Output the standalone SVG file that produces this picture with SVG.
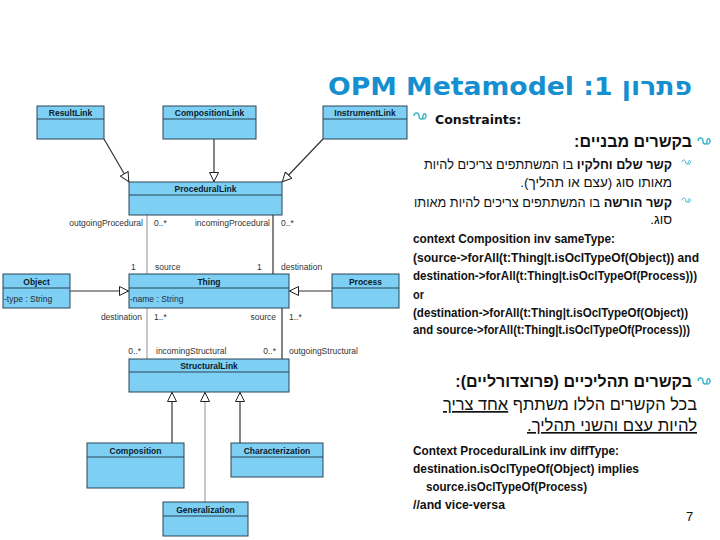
<svg xmlns="http://www.w3.org/2000/svg" width="720" height="540" viewBox="0 0 720 540">
<defs>
<style>
.cls{fill:#7dcff3;stroke:#2b4557;stroke-width:1}
.dv{stroke:#2b4557;stroke-width:1}
.cn{font-family:"Liberation Sans",Arial,sans-serif;font-size:8.5px;font-weight:bold;fill:#0d1b2e;text-anchor:middle}
.at{font-family:"Liberation Sans",Arial,sans-serif;font-size:8.5px;fill:#1d2d3d}
.lb{font-family:"Liberation Sans",Arial,sans-serif;font-size:8.5px;fill:#333}
.e{text-anchor:end}
.dk{stroke:#333;stroke-width:1.2;fill:none}
.lt{stroke:#c8c8c8;stroke-width:2;fill:none}
.he{font-family:"Liberation Sans","DejaVu Sans",sans-serif;fill:#111}
.ocl{font-family:"Liberation Sans",Arial,sans-serif;font-weight:bold;font-size:12px;fill:#111}
.bul{fill:none;stroke:#3cb6c8;stroke-width:1.4}
</style>
<marker id="tri" viewBox="0 0 10 10" refX="10" refY="5" markerWidth="10" markerHeight="10" markerUnits="userSpaceOnUse" orient="auto">
<path d="M0.5,0.5 L9.5,5 L0.5,9.5 Z" fill="#fff" stroke="#222" stroke-width="1"/>
</marker>
<path id="sw" d="M0,3 C0,-1 5,-1 5,3 C5,7 9,7 9,3 C9,0 12,0 12,3 C12,6 9,7 8,5"/>
</defs>

<text x="328" y="95" font-family="DejaVu Sans,sans-serif" font-weight="bold" font-size="25" fill="#158fcf" textLength="364" lengthAdjust="spacingAndGlyphs">OPM Metamodel :1 פתרון</text>

<g id="connectors">
<line class="dk" x1="104" y1="139" x2="129" y2="182" marker-end="url(#tri)"/>
<line class="dk" x1="214" y1="139" x2="214" y2="182" marker-end="url(#tri)"/>
<line class="dk" x1="323" y1="139" x2="282" y2="182" marker-end="url(#tri)"/>
<line class="lt" x1="147" y1="215" x2="147" y2="274"/>
<line class="dk" x1="273" y1="215" x2="273" y2="274"/>
<line class="lt" x1="147" y1="308" x2="147" y2="359"/>
<line class="dk" x1="282" y1="308" x2="282" y2="359"/>
<line class="dk" x1="70" y1="291" x2="129" y2="291" stroke-width="1.5" marker-end="url(#tri)"/>
<line class="dk" x1="332" y1="291" x2="289" y2="291" stroke-width="1.5" marker-end="url(#tri)"/>
<line class="dk" x1="172" y1="443" x2="172" y2="392" marker-end="url(#tri)"/>
<line class="lt" x1="205" y1="502" x2="205" y2="392" stroke-width="1.5" marker-end="url(#tri)"/>
<line class="dk" x1="240" y1="443" x2="240" y2="392" stroke="#555" stroke-width="2" marker-end="url(#tri)"/>
<text class="lb e" x="143" y="226">outgoingProcedural</text>
<text class="lb" x="154" y="226">0..*</text>
<text class="lb e" x="270" y="226">incomingProcedural</text>
<text class="lb" x="281" y="226">0..*</text>
<text class="lb" x="131" y="270">1</text>
<text class="lb" x="155" y="270">source</text>
<text class="lb" x="257" y="270">1</text>
<text class="lb" x="281" y="270">destination</text>
<text class="lb e" x="142" y="320">destination</text>
<text class="lb" x="154" y="320">1..*</text>
<text class="lb e" x="276" y="320">source</text>
<text class="lb" x="289" y="320">1..*</text>
<text class="lb e" x="141" y="354">0..*</text>
<text class="lb" x="156" y="354">incomingStructural</text>
<text class="lb e" x="276" y="354">0..*</text>
<text class="lb" x="289" y="354">outgoingStructural</text>
</g>

<g id="ResultLink"><rect class="cls" x="37" y="106" width="67" height="33"/><line class="dv" x1="37" y1="119" x2="104" y2="119"/><text class="cn" x="70.5" y="116">ResultLink</text></g>
<g id="CompositionLink"><rect class="cls" x="163" y="106" width="93" height="33"/><line class="dv" x1="163" y1="119" x2="256" y2="119"/><text class="cn" x="209.5" y="116">CompositionLink</text></g>
<g id="InstrumentLink"><rect class="cls" x="323" y="106" width="84" height="33"/><line class="dv" x1="323" y1="119" x2="407" y2="119"/><text class="cn" x="365" y="116">InstrumentLink</text></g>
<g id="ProceduralLink"><rect class="cls" x="129" y="182" width="153" height="33"/><line class="dv" x1="129" y1="195" x2="282" y2="195"/><text class="cn" x="205.5" y="192">ProceduralLink</text></g>
<g id="Object"><rect class="cls" x="3" y="274" width="67" height="34"/><line class="dv" x1="3" y1="288" x2="70" y2="288"/><text class="cn" x="36.5" y="285">Object</text><text class="at" x="4" y="302">-type : String</text></g>
<g id="Thing"><rect class="cls" x="129" y="274" width="160" height="34"/><line class="dv" x1="129" y1="288" x2="289" y2="288"/><text class="cn" x="209" y="285">Thing</text><text class="at" x="130" y="302">-name : String</text></g>
<g id="Process"><rect class="cls" x="332" y="274" width="67" height="34"/><line class="dv" x1="332" y1="288" x2="399" y2="288"/><text class="cn" x="365.5" y="285">Process</text></g>
<g id="StructuralLink"><rect class="cls" x="129" y="359" width="160" height="33"/><line class="dv" x1="129" y1="372" x2="289" y2="372"/><text class="cn" x="209" y="369">StructuralLink</text></g>
<g id="Composition"><rect class="cls" x="87" y="443" width="97" height="45"/><line class="dv" x1="87" y1="457" x2="184" y2="457"/><text class="cn" x="135.5" y="454">Composition</text></g>
<g id="Characterization"><rect class="cls" x="231" y="443" width="92" height="34"/><line class="dv" x1="231" y1="457" x2="323" y2="457"/><text class="cn" x="277" y="454">Characterization</text></g>
<g id="Generalization"><rect class="cls" x="163" y="502" width="85" height="34"/><line class="dv" x1="163" y1="516" x2="248" y2="516"/><text class="cn" x="205.5" y="513">Generalization</text></g>

<g id="text">
<use href="#sw" class="bul" x="414" y="113"/>
<text x="435" y="124" font-family="DejaVu Sans,sans-serif" font-weight="bold" font-size="12.5" fill="#111">Constraints:</text>

<use href="#sw" class="bul" x="698" y="138"/>
<text class="he" x="692" y="147" direction="rtl" text-anchor="start" font-size="16" font-weight="bold">בקשרים מבניים:</text>
<use href="#sw" class="bul" x="682" y="160" transform="translate(682,160) scale(0.7) translate(-682,-160)"/>
<text class="he" x="672" y="169" direction="rtl" text-anchor="start" font-size="13.5" textLength="248" lengthAdjust="spacingAndGlyphs"><tspan font-weight="bold">קשר שלם וחלקיו</tspan> בו המשתתפים צריכים להיות</text>
<text class="he" x="672" y="187" direction="rtl" text-anchor="start" font-size="13.5">מאותו סוג (עצם או תהליך).</text>
<use href="#sw" class="bul" x="682" y="198" transform="translate(682,198) scale(0.7) translate(-682,-198)"/>
<text class="he" x="672" y="207" direction="rtl" text-anchor="start" font-size="13.5" textLength="258" lengthAdjust="spacingAndGlyphs"><tspan font-weight="bold">קשר הורשה</tspan> בו המשתתפים צריכים להיות מאותו</text>
<text class="he" x="672" y="224" direction="rtl" text-anchor="start" font-size="13.5">סוג.</text>

<text class="ocl" x="413" y="243" textLength="202" lengthAdjust="spacingAndGlyphs">context Composition inv sameType:</text>
<text class="ocl" x="413" y="262" textLength="286" lengthAdjust="spacingAndGlyphs">(source-&gt;forAll(t:Thing|t.isOclTypeOf(Object)) and</text>
<text class="ocl" x="413" y="280" textLength="284" lengthAdjust="spacingAndGlyphs">destination-&gt;forAll(t:Thing|t.isOclTypeOf(Process)))</text>
<text class="ocl" x="413" y="299" textLength="11" lengthAdjust="spacingAndGlyphs">or</text>
<text class="ocl" x="413" y="317" textLength="275" lengthAdjust="spacingAndGlyphs">(destination-&gt;forAll(t:Thing|t.isOclTypeOf(Object))</text>
<text class="ocl" x="413" y="334" textLength="277" lengthAdjust="spacingAndGlyphs">and source-&gt;forAll(t:Thing|t.isOclTypeOf(Process)))</text>

<use href="#sw" class="bul" x="698" y="378"/>
<text class="he" x="692" y="387" direction="rtl" text-anchor="start" font-size="16" font-weight="bold">בקשרים תהליכיים (פרוצדורליים):</text>
<text class="he" x="697" y="410" direction="rtl" text-anchor="start" font-size="17" textLength="254" lengthAdjust="spacingAndGlyphs">בכל הקשרים הללו משתתף <tspan text-decoration="underline">אחד צריך</tspan></text>
<text class="he" x="697" y="431" direction="rtl" text-anchor="start" font-size="16.5" text-decoration="underline" textLength="170" lengthAdjust="spacingAndGlyphs">להיות עצם והשני תהליך.</text>

<text class="ocl" x="413" y="455" textLength="206" lengthAdjust="spacingAndGlyphs">Context ProceduralLink inv diffType:</text>
<text class="ocl" x="413" y="473" textLength="226" lengthAdjust="spacingAndGlyphs">destination.isOclTypeOf(Object) implies</text>
<text class="ocl" x="426" y="491" textLength="161" lengthAdjust="spacingAndGlyphs">source.isOclTypeOf(Process)</text>
<text class="ocl" x="413" y="509" textLength="92" lengthAdjust="spacingAndGlyphs">//and vice-versa</text>
<text x="686" y="521" font-family="Liberation Sans,Arial,sans-serif" font-size="13" fill="#111">7</text>
</g>
</svg>
